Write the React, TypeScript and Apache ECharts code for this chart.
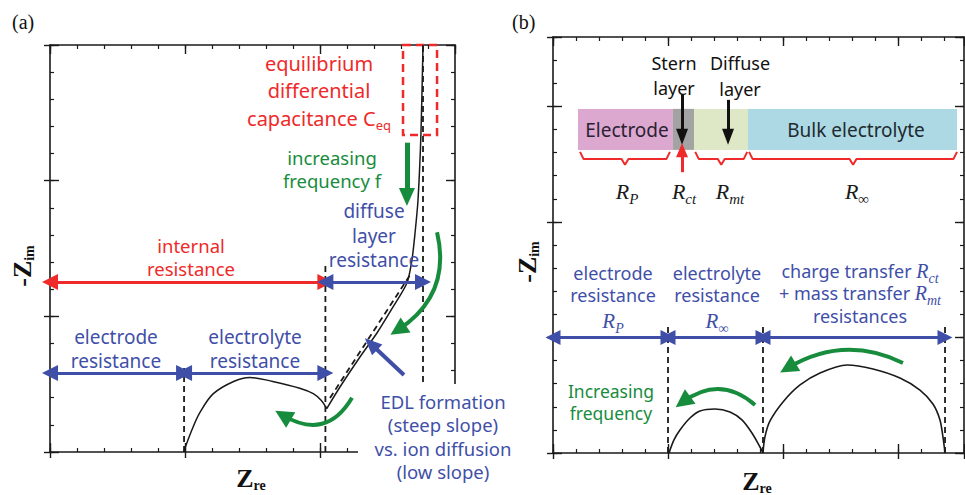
import React, { useEffect, useRef } from "react";
import * as echarts from "echarts";

// ---------- Panel (a) data (axis units: 0..3 on both axes) ----------
const archA: number[][] = [
  [0.99, 0], [1.05, 0.16], [1.11, 0.29], [1.21, 0.43], [1.36, 0.52], [1.48, 0.55],
  [1.65, 0.52], [1.85, 0.47], [1.95, 0.43], [2.01, 0.38], [2.05, 0.32],
];
const riseA: number[][] = [
  [2.05, 0.32], [2.148, 0.479], [2.296, 0.70], [2.422, 0.877], [2.541, 1.069],
  [2.644, 1.246], [2.681, 1.415], [2.704, 1.614], [2.726, 1.857], [2.748, 2.351], [2.763, 3.0],
];
const slopeDashA: number[][] = [[2.074, 0.398], [2.667, 1.305]];
const dashXA = [0.993, 2.04, 2.763];
const dashTopA = [0.62, 1.38, 3.0];
const bandYA = [1.253, 0.582]; // y of internal/diffuse arrows, electrode/electrolyte arrows
const bandXA = [0, 0.993, 2.04, 2.763];
const ceqBoxA: number[][] = [[2.615, 3.0], [2.867, 2.337]];

// ---------- Panel (b) data (x 0..3.574, y 0..3.6) ----------
const arcB1: number[][] = [
  [1.009, 0], [1.052, 0.113], [1.104, 0.199], [1.191, 0.303], [1.278, 0.364], [1.409, 0.381],
  [1.539, 0.355], [1.643, 0.286], [1.73, 0.173], [1.80, 0.052], [1.826, 0],
];
const arcB2: number[][] = [
  [1.826, 0], [1.843, 0.139], [1.887, 0.277], [2.0, 0.442], [2.148, 0.589], [2.322, 0.693],
  [2.557, 0.762], [2.783, 0.727], [3.017, 0.649], [3.191, 0.545], [3.304, 0.424],
  [3.365, 0.286], [3.391, 0.139], [3.409, 0],
];
const bandXB = [0, 1.0, 1.826, 3.409];
const bandYB = 1.0;
const dashTopB = 1.126;
const layerNames = ["Electrode", "Stern", "Diffuse", "Bulk"];
const layerEdges = [0.217, 1.043, 1.226, 1.696, 3.513];
const layerY = [2.623, 2.978];
const braceSpans: number[][] = [[0.235, 1.017], [1.237, 1.689], [1.705, 3.513]];
const braceY = [2.606, 2.545, 2.494];

const SANS = '"Noto Sans", "Open Sans", sans-serif';
const SERIF = '"Liberation Serif", "DejaVu Serif", serif';
const RED = "#ee2a2a";
const BLUE = "#3f4fa8";
const GREEN = "#178c3d";
const INK = "#1a1a1a";

const layerColors = ["#dca8d0", "#a3a3a3", "#dfe8c6", "#acd9e4"];

function axisSet(grid: number, max: number, pos: "bottom" | "top" | "left" | "right", withOut: boolean) {
  const common = {
    type: "value", gridIndex: grid, min: 0, max, position: pos,
    axisLabel: { show: false }, splitLine: { show: false },
  };
  const arr: any[] = [
    {
      ...common, interval: 0.2,
      axisLine: { show: true, onZero: false, lineStyle: { color: INK, width: 1.6 } },
      axisTick: { show: true, inside: true, length: 4, lineStyle: { color: INK, width: 1.2 } },
    },
    {
      ...common, interval: 1,
      axisLine: { show: false, onZero: false },
      axisTick: { show: true, inside: true, length: 9, lineStyle: { color: INK, width: 1.4 } },
    },
  ];
  if (withOut) {
    arr.push({
      ...common, interval: 1,
      axisLine: { show: false, onZero: false },
      axisTick: { show: true, inside: false, length: 6, lineStyle: { color: INK, width: 1.4 } },
    });
  }
  return arr;
}

export default function App() {
  const ref = useRef<HTMLDivElement>(null);
  useEffect(() => {
    if (!ref.current) return;
    const chart = echarts.init(ref.current, undefined, { renderer: "svg" });

    const xAxis: any[] = [
      ...axisSet(0, 3, "bottom", true), ...axisSet(0, 3, "top", false),
      ...axisSet(1, 3.574, "bottom", true), ...axisSet(1, 3.574, "top", false),
    ];
    const yAxis: any[] = [
      ...axisSet(0, 3, "left", true), ...axisSet(0, 3, "right", false),
      ...axisSet(1, 3.6, "left", true), ...axisSet(1, 3.6, "right", false),
    ];
    const AX = [0, 5];

    const series: any[] = [];
    const curve = (g: number, data: number[][], smooth: number, width: number, type: any = "solid", color = INK) =>
      series.push({
        type: "line", xAxisIndex: AX[g], yAxisIndex: AX[g], data, symbol: "none", showSymbol: false,
        smooth, silent: true, z: 3, lineStyle: { color, width, type },
      });
    const arrow = (g: number, from: number[], to: number[], color: string, width: number,
      syms: string[], size: number[]) =>
      series.push({
        type: "line", xAxisIndex: AX[g], yAxisIndex: AX[g], data: [], silent: true, z: 5,
        markLine: {
          silent: true, symbol: syms, symbolSize: size, label: { show: false },
          emphasis: { disabled: true },
          lineStyle: { color, width, type: "solid" },
          data: [[{ coord: from }, { coord: to }]],
        },
      });
    const bent = (g: number, from: number[], to: number[], color: string, width: number, size: number[], curveness: number) =>
      series.push({
        type: "lines", coordinateSystem: "cartesian2d", xAxisIndex: AX[g], yAxisIndex: AX[g],
        silent: true, z: 5, symbol: ["none", "triangle"], symbolSize: size,
        lineStyle: { color, width, curveness, opacity: 1 },
        data: [{ coords: [from, to] }],
      });
    const area = (g: number, p1: number[], p2: number[], itemStyle: any) =>
      series.push({
        type: "line", xAxisIndex: AX[g], yAxisIndex: AX[g], data: [], silent: true, z: 1,
        markArea: { silent: true, itemStyle, emphasis: { disabled: true }, data: [[{ coord: p1 }, { coord: p2 }]] },
      });

    // ----- panel (a) -----
    area(0, ceqBoxA[0], ceqBoxA[1], { color: "rgba(0,0,0,0)", borderColor: RED, borderWidth: 2.5, borderType: [8, 5] });
    dashXA.forEach((x, i) => curve(0, [[x, 0], [x, dashTopA[i]]], 0, 1.8, [6, 4]));
    curve(0, slopeDashA, 0, 1.8, [6, 4]);
    curve(0, archA, 0.35, 1.5);
    curve(0, riseA, 0.25, 1.5);
    arrow(0, [bandXA[0], bandYA[0]], [bandXA[2], bandYA[0]], RED, 3, ["triangle", "triangle"], [16, 16]);
    arrow(0, [bandXA[2], bandYA[0]], [bandXA[3], bandYA[0]], BLUE, 3, ["triangle", "triangle"], [16, 16]);
    arrow(0, [bandXA[0], bandYA[1]], [bandXA[1], bandYA[1]], BLUE, 3, ["triangle", "triangle"], [16, 16]);
    arrow(0, [bandXA[1], bandYA[1]], [bandXA[2], bandYA[1]], BLUE, 3, ["triangle", "triangle"], [16, 16]);
    arrow(0, [2.644, 2.28], [2.644, 1.88], GREEN, 5, ["none", "triangle"], [16, 18]);
    bent(0, [2.867, 1.62], [2.578, 0.90], GREEN, 4, [16, 18], 0.35);
    bent(0, [2.237, 0.40], [1.726, 0.27], GREEN, 4, [16, 18], 0.5);
    arrow(0, [2.622, 0.567], [2.378, 0.796], BLUE, 4, ["none", "triangle"], [15, 17]);

    // ----- panel (b) -----
    layerNames.forEach((_, i) =>
      area(1, [layerEdges[i], layerY[1]], [layerEdges[i + 1], layerY[0]], { color: layerColors[i] }));
    braceSpans.forEach(([a, b]) => {
      const c = (a + b) / 2;
      const d = 0.03;
      curve(1, [[a, braceY[0]], [a + d, braceY[1]], [c - d, braceY[1]], [c, braceY[2]],
        [c + d, braceY[1]], [b - d, braceY[1]], [b, braceY[0]]], 0, 2, "solid", RED);
    });
    bandXB.slice(1).forEach((x) => curve(1, [[x, 0], [x, dashTopB]], 0, 1.8, [6, 4]));
    curve(1, arcB1, 0.3, 1.6);
    curve(1, arcB2, 0.3, 1.6);
    for (let i = 0; i < 3; i++)
      arrow(1, [bandXB[i], bandYB], [bandXB[i + 1], bandYB], BLUE, 3, ["triangle", "triangle"], [15, 15]);
    bent(1, [1.757, 0.416], [1.13, 0.442], GREEN, 4, [16, 18], -0.4);
    bent(1, [3.043, 0.779], [2.043, 0.736], GREEN, 4, [16, 18], -0.27);
    arrow(1, [1.122, 3.10], [1.122, 2.736], "#111", 3, ["none", "triangle"], [12, 16]);
    arrow(1, [1.522, 3.056], [1.522, 2.736], "#111", 3, ["none", "triangle"], [12, 16]);
    arrow(1, [1.122, 2.43], [1.122, 2.62], RED, 3, ["none", "triangle"], [12, 14]);

    // ----- texts -----
    const sub = (size: number, fill: string, family = SANS, extra: any = {}) => ({
      fontSize: size, fontFamily: family, fill, padding: [size, 0, 0, 0], ...extra,
    });
    const t = (x: number, y: number, text: string, fill: string, size: number, rich?: any, align = "center", extra: any = {}) => ({
      type: "text", x, y, z: 120, silent: true,
      style: { text, fill, fontSize: size, fontFamily: SANS, align, verticalAlign: "middle", rich, ...extra },
    });
    // multi-line block: y0 = centre of first line, lh = line spacing
    const tm = (x: number, y0: number, lines: string[], fill: string, size: number, lh: number) =>
      t(x, y0 + (lh * (lines.length - 1)) / 2, lines.join("\n"), fill, size, undefined, "center", { lineHeight: lh });
    const mathRich = (fill: string, size: number) => ({
      r: { fontSize: size, fontFamily: SERIF, fontStyle: "italic", fill },
      s: sub(Math.round(size * 0.68), fill, SERIF, { fontStyle: "italic" }),
    });
    const zRich = {
      z: { fontSize: 26, fontFamily: SERIF, fontWeight: "bold", fill: "#111" },
      s: sub(14, "#111", SERIF, { fontWeight: "bold" }),
    };

    const graphic: any[] = [
      { type: "rect", z: 100, silent: true, shape: { x: 358, y: 384, width: 165, height: 115 }, style: { fill: "#fff" } },
      t(12, 22, "(a)", "#111", 20, undefined, "left", { fontFamily: SERIF }),
      t(512, 22, "(b)", "#111", 20, undefined, "left", { fontFamily: SERIF }),
      // panel a
      tm(319, 63, ["equilibrium", "differential"], RED, 20, 27),
      t(319, 118, "capacitance C{s|eq}", RED, 20, { s: sub(13, RED) }),
      tm(332, 157, ["increasing", "frequency f"], GREEN, 18.5, 23.5),
      tm(374, 211, ["diffuse", "layer", "resistance"], BLUE, 19, 24.5),
      tm(191, 245, ["internal", "resistance"], RED, 18.5, 23.5),
      tm(116, 337, ["electrode", "resistance"], BLUE, 19, 23.5),
      tm(255, 337, ["electrolyte", "resistance"], BLUE, 19, 23.5),
      tm(443, 401, ["EDL formation", "(steep slope)", "vs. ion diffusion", "(low slope)"], BLUE, 18.5, 23.5),
      {
        type: "text", x: 22, y: 266, z: 120, rotation: Math.PI / 2, silent: true,
        style: { text: "{z|-Z}{s|im}", align: "center", verticalAlign: "middle", rich: zRich },
      },
      t(251, 478, "{z|Z}{s|re}", "#111", 26, zRich),
      // panel b
      tm(674, 63, ["Stern", "layer"], "#111", 18, 25),
      tm(740, 63, ["Diffuse", "layer"], "#111", 18, 26),
      t(627, 130, "Electrode", "#2a2233", 19),
      t(856, 130, "Bulk electrolyte", "#1f2a30", 19),
      t(627, 191, "{r|R}{s|P}", INK, 22, mathRich(INK, 22)),
      t(684, 191, "{r|R}{s|ct}", INK, 22, mathRich(INK, 22)),
      t(730, 191, "{r|R}{s|mt}", INK, 22, mathRich(INK, 22)),
      t(857, 191, "{r|R}{s|∞}", INK, 22, mathRich(INK, 22)),
      tm(613, 273, ["electrode", "resistance"], BLUE, 18, 22),
      t(613, 321, "{r|R}{s|P}", BLUE, 21, mathRich(BLUE, 21)),
      tm(717, 273, ["electrolyte", "resistance"], BLUE, 18, 22),
      t(717, 321, "{r|R}{s|∞}", BLUE, 21, mathRich(BLUE, 21)),
      t(860, 271, "charge transfer {r|R}{s|ct}", BLUE, 18, mathRich(BLUE, 20)),
      t(860, 293, "+ mass transfer {r|R}{s|mt}", BLUE, 18, mathRich(BLUE, 20)),
      t(860, 316, "resistances", BLUE, 18),
      tm(611, 391, ["Increasing", "frequency"], GREEN, 17.5, 22),
      {
        type: "text", x: 527, y: 262, z: 120, rotation: Math.PI / 2, silent: true,
        style: { text: "{z|-Z}{s|im}", align: "center", verticalAlign: "middle", rich: zRich },
      },
      t(757, 481, "{z|Z}{s|re}", "#111", 26, zRich),
    ];

    chart.setOption({
      animation: false,
      backgroundColor: "#fff",
      grid: [
        { left: 50, top: 45, width: 405, height: 407 },
        { left: 553, top: 37, width: 411, height: 416 },
      ],
      xAxis, yAxis, series, graphic,
    });
    return () => chart.dispose();
  }, []);
  return <div ref={ref} style={{ position: "fixed", left: 0, top: 0, width: 965, height: 495, background: "#fff" }} />;
}
